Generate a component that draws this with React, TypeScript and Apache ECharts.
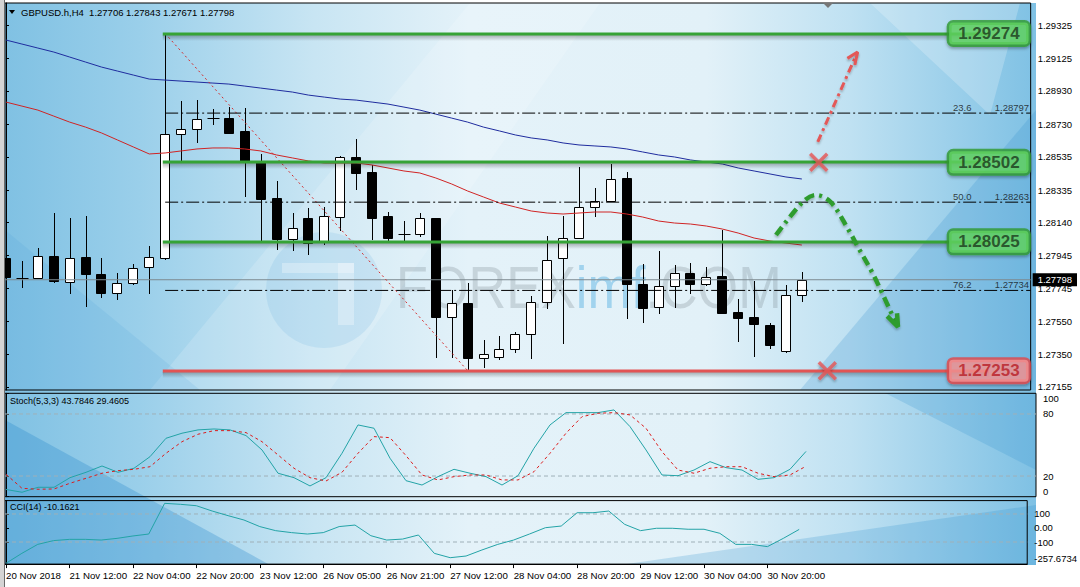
import React, { useEffect, useRef } from "react";
import * as echarts from "echarts";

// ---------- texts ----------
const symbolTitle = "GBPUSD.h,H4  1.27706 1.27843 1.27671 1.27798";
const stochTitle = "Stoch(5,3,3) 43.7846 29.4605";
const cciTitle = "CCI(14) -10.1621";
const watermarkA = "FOREX";
const watermarkB = "imf";
const watermarkC = ".COM";

// ---------- axes ----------
const timeLabels = [
  "20 Nov 2018", "21 Nov 12:00", "22 Nov 04:00", "22 Nov 20:00", "23 Nov 12:00",
  "26 Nov 05:00", "26 Nov 21:00", "27 Nov 12:00", "28 Nov 04:00", "28 Nov 20:00",
  "29 Nov 12:00", "30 Nov 04:00", "30 Nov 20:00",
];
const TIME_LABEL_STEP = 4;
const priceTicks = [1.29325, 1.29125, 1.2893, 1.2873, 1.28535, 1.28335, 1.2814, 1.27945, 1.27745, 1.2755, 1.2735, 1.27155];
const stochTicks = [100, 80, 20, 0];
const stochTickText = ["100", "80", "20", "0"];
const cciTicks = [195.5107, 100, 0, -100, -257.6734];
const cciTickText = ["195.5107", "100", "0.00", "-100", "-257.6734"];
const stochLevels = [80, 20];
const cciLevels = [100, -100];

const X_MIN = -0.0625;
const X_MAX = 64.375;
const PRICE_MIN = 1.27137;
const PRICE_MAX = 1.29457;
const CCI_MIN = -257.6734;
const CCI_MAX = 195.5107;

// ---------- OHLC (H4 bars) ----------
const opens = [
  1.27928, 1.2781, 1.27808, 1.2794, 1.27784, 1.27934, 1.27832, 1.27718, 1.27778, 1.27874,
  1.27928, 1.28672, 1.28701, 1.28767, 1.28767, 1.2869, 1.28504, 1.28288, 1.28042, 1.28168,
  1.28024, 1.28174, 1.28534, 1.28444, 1.2818, 1.28072, 1.28072, 1.28168, 1.27574, 1.27658,
  1.27328, 1.27334, 1.27382, 1.27472, 1.27664, 1.27928, 1.28048, 1.28234, 1.2827, 1.28408,
  1.27772, 1.27634, 1.2776, 1.27838, 1.27772, 1.2782, 1.27604, 1.27574, 1.27526, 1.2737,
  1.27706,
];
const closes = [
  1.27814, 1.27806, 1.2794, 1.2779, 1.27928, 1.27832, 1.27718, 1.27778, 1.27868, 1.27934,
  1.28672, 1.28701, 1.28761, 1.28765, 1.28678, 1.28504, 1.28282, 1.28042, 1.28108, 1.28018,
  1.2818, 1.28534, 1.28438, 1.28168, 1.28048, 1.2807, 1.28168, 1.27574, 1.27658, 1.27328,
  1.27352, 1.27382, 1.27472, 1.27664, 1.27916, 1.28048, 1.28234, 1.2827, 1.28402, 1.27772,
  1.27628, 1.2776, 1.27838, 1.27772, 1.27814, 1.27598, 1.27568, 1.27532, 1.27406, 1.27706,
  1.27798,
];
const lows = [
  1.27766, 1.27754, 1.27806, 1.27784, 1.27718, 1.2764, 1.27694, 1.27682, 1.27772, 1.27718,
  1.27922, 1.28504, 1.28624, 1.28731, 1.28676, 1.283, 1.28024, 1.27982, 1.27976, 1.27952,
  1.28012, 1.28096, 1.28342, 1.28042, 1.2803, 1.28036, 1.2806, 1.27334, 1.27334, 1.27253,
  1.27274, 1.27322, 1.27364, 1.27328, 1.27628, 1.27418, 1.28046, 1.2818, 1.28268, 1.27568,
  1.27544, 1.27598, 1.27634, 1.27718, 1.27766, 1.27596, 1.2743, 1.2734, 1.27388, 1.27364,
  1.27671,
];
const highs = [
  1.27958, 1.2791, 1.27988, 1.28198, 1.28168, 1.2818, 1.27928, 1.27838, 1.27892, 1.28,
  1.29274, 1.28869, 1.28875, 1.28821, 1.28833, 1.28827, 1.28552, 1.2839, 1.28198, 1.28228,
  1.28234, 1.2854, 1.28642, 1.28486, 1.28204, 1.2815, 1.28198, 1.2817, 1.27736, 1.27778,
  1.27436, 1.2746, 1.27484, 1.277, 1.2806, 1.2818, 1.28474, 1.28348, 1.28492, 1.28444,
  1.27892, 1.2797, 1.27886, 1.27898, 1.27874, 1.28096, 1.27682, 1.2779, 1.27538, 1.27766,
  1.27843,
];

// ---------- moving averages ----------
const maSlow = [
  1.29235, 1.29211, 1.29187, 1.29163, 1.29133, 1.29103, 1.29073, 1.29049, 1.29025, 1.29001,
  1.28995, 1.28989, 1.28983, 1.28977, 1.28971, 1.28959, 1.28947, 1.28935, 1.28923, 1.28905,
  1.28893, 1.28881, 1.28875, 1.28863, 1.28851, 1.28833, 1.28815, 1.28791, 1.28767, 1.28743,
  1.28713, 1.2869, 1.28666, 1.28648, 1.28636, 1.28618, 1.28606, 1.286, 1.28594, 1.28582,
  1.28564, 1.28546, 1.28534, 1.28516, 1.28504, 1.28492, 1.28468, 1.2845, 1.28432, 1.28414,
  1.28402,
];
const maFast = [
  1.28863, 1.28839, 1.28815, 1.28779, 1.28743, 1.28713, 1.28678, 1.28636, 1.28594, 1.28552,
  1.28558, 1.2857, 1.28582, 1.28588, 1.28588, 1.28582, 1.2857, 1.28546, 1.28528, 1.2851,
  1.28498, 1.28498, 1.28498, 1.28486, 1.28468, 1.2845, 1.28438, 1.28408, 1.28372, 1.2833,
  1.28294, 1.28258, 1.28234, 1.2821, 1.28198, 1.28192, 1.28198, 1.28204, 1.28204, 1.28192,
  1.28174, 1.2815, 1.28138, 1.28132, 1.2812, 1.28102, 1.28078, 1.28048, 1.2803, 1.28018,
  1.28006,
];

// ---------- indicators ----------
const stochK = [
  7.0, 4.3, 9.1, 9.1, 18.4, 23.6, 29.7, 23.6, 27.5, 38.7,
  56.5, 61.4, 64.6, 65.5, 64.6, 59.1, 45.2, 22.7, 18.4, 10.4,
  18.4, 42.0, 69.4, 66.2, 37.2, 15.5, 11.3, 19.4, 26.5, 22.7,
  19.4, 11.3, 20.3, 46.9, 69.4, 81.3, 81.3, 81.3, 83.9, 67.8,
  45.2, 21.0, 20.3, 25.8, 33.9, 28.1, 25.8, 16.8, 18.4, 26.5,
  43.7846,
];
const stochD = [
  21.7, 8.1, 7.2, 7.5, 13.0, 17.8, 22.7, 25.2, 26.5, 29.0,
  42.0, 53.2, 60.4, 63.9, 63.9, 62.0, 53.2, 40.4, 27.5, 18.4,
  15.2, 23.6, 42.0, 58.1, 57.1, 39.7, 21.0, 16.2, 19.4, 21.0,
  21.0, 16.2, 16.2, 24.2, 42.0, 61.4, 77.4, 80.7, 81.3, 79.1,
  66.2, 43.6, 25.8, 22.7, 27.5, 29.0, 29.0, 22.7, 19.4, 21.0,
  29.4605,
];
const cci = [
  -252, -181, -117, -90, -81, -81, -86, -74, -57, -43,
  176, 169, 159, 121, 88, 57, 10, -19, -33, -43,
  -33, 10, 21, -55, -86, -79, -50, -181, -212, -200,
  -157, -117, -86, -43, 2, 14, 109, 109, 121, 26,
  -19, -2, -2, -9, -9, -38, -117, -117, -133, -74,
  -10.1621,
];

// ---------- levels / analysis objects ----------
const resistanceLevels = [1.29274, 1.28502, 1.28025];
const supportLevels = [1.27253];
const fibLevels = [23.6, 50.0, 76.2];
const fibPrices = [1.28797, 1.28263, 1.27734];
const fibHigh = [10, 1.29274];
const fibLow = [29, 1.27253];
const lastPrice = 1.27798;
const LEVEL_START_X = 9.85;
const LABEL_BOX_X = 61.75;
const FIB_PCT_X = 60.69;
const FIB_PRICE_X = 64.31;

const bullArrowPath = [[51.0, 1.28624], [53.5, 1.29163]];
const bullArrowHead = [[52.86, 1.29125], [53.5, 1.29163], [53.33, 1.29085]];
const bearCurvePath = [
  [48.375, 1.28066], [50.06, 1.28264], [50.875, 1.28306], [51.81, 1.28264], [52.94, 1.28096],
  [53.56, 1.27988], [54.44, 1.27838], [55.25, 1.27676], [55.875, 1.27545],
];
const bearArrowHead = [[55.36, 1.2758], [56.04, 1.27516], [55.98, 1.27597]];
const crossMarks = [[51.06, 1.28502], [51.6, 1.27253]];

const FONT = '"Liberation Sans", Arial, Helvetica, sans-serif';

export default function App() {
  const ref = useRef<HTMLDivElement>(null);

  useEffect(() => {
    if (!ref.current) return;
    const chart = echarts.init(ref.current, undefined, { renderer: "svg" });

    const candleData = opens.map((o, i) => [i, o, closes[i], lows[i], highs[i]]);
    const indexed = (arr: number[]) => arr.map((v, i) => [i, v]);
    const hLine = (v: number, x0: number, x1: number) => [[x0, v], [x1, v]];
    const tickIdx = timeLabels.map((_, k) => k * TIME_LABEL_STEP);

    const lineBase = {
      type: "line",
      showSymbol: false,
      symbol: "none",
      silent: true,
      animation: false,
    };

    const series: any[] = [];

    // candles
    series.push({
      type: "custom",
      xAxisIndex: 0,
      yAxisIndex: 0,
      z: 2,
      clip: true,
      silent: true,
      encode: { x: 0, y: [1, 2, 3, 4] },
      data: candleData,
      renderItem: (_params: any, api: any) => {
        const i = api.value(0);
        const o = api.value(1);
        const c = api.value(2);
        const lo = api.value(3);
        const hi = api.value(4);
        const pO = api.coord([i, o]);
        const pC = api.coord([i, c]);
        const pL = api.coord([i, lo]);
        const pH = api.coord([i, hi]);
        const cx = Math.round(pO[0]) + 0.5;
        const yTop = Math.round(Math.min(pO[1], pC[1])) + 0.5;
        const yBot = Math.round(Math.max(pO[1], pC[1])) + 0.5;
        const up = c >= o;
        const children: any[] = [
          {
            type: "line",
            shape: { x1: cx, y1: Math.round(pH[1]), x2: cx, y2: Math.round(pL[1]) + 1 },
            style: { stroke: "#000", lineWidth: 1 },
          },
        ];
        if (yBot - yTop < 1) {
          children.push({
            type: "line",
            shape: { x1: cx - 6, y1: yTop, x2: cx + 6, y2: yTop },
            style: { stroke: "#000", lineWidth: 1 },
          });
        } else {
          children.push({
            type: "rect",
            shape: { x: cx - 5, y: yTop, width: 9, height: yBot - yTop },
            style: { fill: up ? "#ffffff" : "#000000", stroke: "#000", lineWidth: 1 },
          });
        }
        return { type: "group", children };
      },
    });

    // moving averages
    series.push({ ...lineBase, xAxisIndex: 0, yAxisIndex: 0, z: 3, data: indexed(maSlow), lineStyle: { color: "#1f2c9e", width: 1 } });
    series.push({ ...lineBase, xAxisIndex: 0, yAxisIndex: 0, z: 3, data: indexed(maFast), lineStyle: { color: "#d02424", width: 1 } });

    // bid line
    series.push({ ...lineBase, xAxisIndex: 0, yAxisIndex: 0, z: 3, data: hLine(lastPrice, X_MIN, X_MAX), lineStyle: { color: "#7d8a90", width: 1 } });

    // fibo trend line
    series.push({ ...lineBase, xAxisIndex: 0, yAxisIndex: 0, z: 3, data: [fibHigh, fibLow], lineStyle: { color: "#d42a2a", width: 1, type: [2, 3] } });

    // fibo levels
    fibPrices.forEach((p) => {
      series.push({ ...lineBase, xAxisIndex: 0, yAxisIndex: 0, z: 3, data: hLine(p, fibHigh[0], X_MAX), lineStyle: { color: "#000", width: 1, type: [13, 3, 2, 3] } });
    });

    // support / resistance lines with a soft drop shadow
    const levelSeries = (levels: number[], color: string) => ({
      type: "custom",
      xAxisIndex: 0,
      yAxisIndex: 0,
      z: 4,
      silent: true,
      clip: true,
      encode: { x: [0, 1], y: 2 },
      data: levels.map((v) => [LEVEL_START_X, LABEL_BOX_X, v]),
      renderItem: (_params: any, api: any) => {
        const a = api.coord([api.value(0), api.value(2)]);
        const b = api.coord([api.value(1), api.value(2)]);
        const y = Math.round(a[1]);
        const w = b[0] - a[0];
        return {
          type: "group",
          children: [
            {
              type: "rect",
              shape: { x: a[0], y: y + 1, width: w, height: 6 },
              style: {
                fill: {
                  type: "linear", x: 0, y: 0, x2: 0, y2: 1,
                  colorStops: [
                    { offset: 0, color: "rgba(40,40,40,0.35)" },
                    { offset: 1, color: "rgba(40,40,40,0)" },
                  ],
                },
              },
            },
            { type: "rect", shape: { x: a[0], y: y - 1.5, width: w, height: 3 }, style: { fill: color } },
          ],
        };
      },
    });
    series.push(levelSeries(resistanceLevels, "#36a336"));
    series.push(levelSeries(supportLevels, "#e25454"));

    // level label boxes
    const boxLabel = {
      show: true,
      position: "inside",
      fontFamily: FONT,
      fontSize: 17,
      fontWeight: "bold",
      borderWidth: 2.5,
      borderRadius: 4,
      padding: [3, 9, 2, 9],
      shadowColor: "rgba(0,0,0,0.35)",
      shadowBlur: 3,
      shadowOffsetY: 2,
      formatter: (p: any) => p.value[1].toFixed(5),
    };
    series.push({
      type: "scatter", xAxisIndex: 0, yAxisIndex: 0, z: 6, silent: true, symbolSize: 1,
      itemStyle: { color: "rgba(0,0,0,0)" },
      data: resistanceLevels.map((v) => [LABEL_BOX_X, v]),
      label: { ...boxLabel, color: "#1b381b", backgroundColor: "#63d663", borderColor: "#2f9a2f" },
    });
    series.push({
      type: "scatter", xAxisIndex: 0, yAxisIndex: 0, z: 6, silent: true, symbolSize: 1,
      itemStyle: { color: "rgba(0,0,0,0)" },
      data: supportLevels.map((v) => [LABEL_BOX_X, v]),
      label: { ...boxLabel, color: "#b81c24", backgroundColor: "#f59595", borderColor: "#e2474b" },
    });

    // fibo labels
    const fibLabel = { show: true, position: [0, 0], align: "right", verticalAlign: "bottom", fontFamily: FONT, fontSize: 9.5, color: "#111" };
    series.push({
      type: "scatter", xAxisIndex: 0, yAxisIndex: 0, z: 5, silent: true, symbolSize: 1,
      itemStyle: { color: "rgba(0,0,0,0)" },
      data: fibPrices.map((p, k) => ({ value: [FIB_PCT_X, p], name: fibLevels[k].toFixed(1) })),
      label: { ...fibLabel, formatter: (p: any) => p.name },
    });
    series.push({
      type: "scatter", xAxisIndex: 0, yAxisIndex: 0, z: 5, silent: true, symbolSize: 1,
      itemStyle: { color: "rgba(0,0,0,0)" },
      data: fibPrices.map((p) => [FIB_PRICE_X, p]),
      label: { ...fibLabel, formatter: (p: any) => p.value[1].toFixed(5) },
    });

    // analysis arrows
    const softShadow = { shadowColor: "rgba(0,0,0,0.25)", shadowBlur: 2, shadowOffsetY: 2 };
    series.push({ ...lineBase, xAxisIndex: 0, yAxisIndex: 0, z: 5, data: bullArrowPath, lineStyle: { color: "#e35858", width: 3, type: [8, 4, 3, 4], ...softShadow } });
    series.push({ ...lineBase, xAxisIndex: 0, yAxisIndex: 0, z: 5, data: bullArrowHead, lineStyle: { color: "#e35858", width: 3, ...softShadow } });
    series.push({ ...lineBase, xAxisIndex: 0, yAxisIndex: 0, z: 5, smooth: 0.35, data: bearCurvePath, lineStyle: { color: "#2f9c2f", width: 4.5, type: [10, 5, 3, 5], ...softShadow } });
    series.push({ ...lineBase, xAxisIndex: 0, yAxisIndex: 0, z: 5, data: bearArrowHead, lineStyle: { color: "#2f9c2f", width: 4.5, ...softShadow } });
    series.push({
      type: "scatter", xAxisIndex: 0, yAxisIndex: 0, z: 6, silent: true,
      symbol: "path://M0 0L10 10M10 0L0 10", symbolSize: 17, symbolKeepAspect: true,
      itemStyle: { color: "rgba(0,0,0,0)", borderColor: "#e65656", borderWidth: 3.5, shadowColor: "rgba(0,0,0,0.3)", shadowBlur: 2, shadowOffsetY: 2 },
      data: crossMarks,
    });

    // stochastic
    stochLevels.forEach((v) => {
      series.push({ ...lineBase, xAxisIndex: 1, yAxisIndex: 2, z: 2, data: hLine(v, X_MIN, X_MAX), lineStyle: { color: "#9fb0b8", width: 1, type: [4, 3] } });
    });
    series.push({ ...lineBase, xAxisIndex: 1, yAxisIndex: 2, z: 3, data: indexed(stochK), lineStyle: { color: "#23a3a6", width: 1 } });
    series.push({ ...lineBase, xAxisIndex: 1, yAxisIndex: 2, z: 3, data: indexed(stochD), lineStyle: { color: "#dc1c1c", width: 1, type: [3, 3] } });

    // CCI
    cciLevels.forEach((v) => {
      series.push({ ...lineBase, xAxisIndex: 2, yAxisIndex: 3, z: 2, data: hLine(v, X_MIN, X_MAX), lineStyle: { color: "#9fb0b8", width: 1, type: [4, 3] } });
    });
    series.push({ ...lineBase, xAxisIndex: 2, yAxisIndex: 3, z: 3, data: indexed(cci), lineStyle: { color: "#23a3a6", width: 1 } });

    const baseX = { type: "value", min: X_MIN, max: X_MAX, splitLine: { show: false } };
    const axisText = { color: "#000", fontFamily: FONT, fontSize: 9.5 };
    const richShift = {
      t: { ...axisText, padding: [11, 0, 0, 0] },
      b: { ...axisText, padding: [0, 0, 11, 0] },
    };
    const shiftedFormatter = (ticks: number[], texts: string[]) => (v: number) => {
      const k = ticks.findIndex((t) => Math.abs(t - v) < 1e-6);
      if (k < 0) return "";
      if (k === 0) return "{t|" + texts[k] + "}";
      if (k === ticks.length - 1) return "{b|" + texts[k] + "}";
      return texts[k];
    };

    const bgFill = {
      type: "linear", x: 0, y: 0, x2: 1, y2: 0,
      colorStops: [
        { offset: 0, color: "#80c1e3" },
        { offset: 0.13, color: "#9acfea" },
        { offset: 0.3, color: "#c8e5f3" },
        { offset: 0.45, color: "#e4f2f9" },
        { offset: 0.68, color: "#e2f1f8" },
        { offset: 0.82, color: "#bfe1f2" },
        { offset: 1, color: "#7fc1e4" },
      ],
    };

    const graphic: any[] = [
      { type: "rect", z: -10, silent: true, shape: { x: 5, y: 3, width: 1031, height: 562 }, style: { fill: bgFill } },
      { type: "polygon", z: -9, silent: true, shape: { points: [[150, 390], [330, 390], [600, 3], [470, 3]] }, style: { fill: "rgba(255,255,255,0.16)" } },
      { type: "polygon", z: -9, silent: true, shape: { points: [[5, 230], [5, 390], [200, 390]] }, style: { fill: "rgba(60,150,210,0.12)" } },
      { type: "polygon", z: -9, silent: true, shape: { points: [[1036, 110], [1036, 390], [800, 390]] }, style: { fill: "rgba(50,140,205,0.22)" } },
      { type: "polygon", z: -9, silent: true, shape: { points: [[870, 3], [1020, 3], [990, 115]] }, style: { fill: "rgba(255,255,255,0.22)" } },
      { type: "polygon", z: -9, silent: true, shape: { points: [[5, 420], [5, 565], [270, 565]] }, style: { fill: "rgba(30,130,200,0.28)" } },
      { type: "polygon", z: -9, silent: true, shape: { points: [[885, 393], [1036, 393], [1036, 470]] }, style: { fill: "rgba(40,140,205,0.2)" } },
      { type: "polygon", z: -9, silent: true, shape: { points: [[620, 565], [1036, 565], [1036, 505]] }, style: { fill: "rgba(40,140,205,0.22)" } },
      // watermark logo
      { type: "circle", z: 1, silent: true, shape: { cx: 324, cy: 290, r: 58 }, style: { fill: "rgba(80,165,220,0.14)" } },
      { type: "rect", z: 1, silent: true, shape: { x: 282, y: 263, width: 72, height: 10 }, style: { fill: "rgba(255,255,255,0.3)" } },
      { type: "rect", z: 1, silent: true, shape: { x: 338, y: 263, width: 16, height: 62 }, style: { fill: "rgba(255,255,255,0.3)" } },
      {
        type: "text", z: 1, silent: true, x: 396, y: 287, scaleX: 0.87,
        style: {
          text: "{a|" + watermarkA + "}{b|" + watermarkB + "}{a|" + watermarkC + "}",
          verticalAlign: "middle",
          rich: {
            a: { fontSize: 60, fontFamily: FONT, fill: "rgba(105,115,125,0.24)" },
            b: { fontSize: 60, fontFamily: FONT, fill: "rgba(70,170,225,0.42)" },
          },
        },
      },
      // window frame
      { type: "rect", z: 10, silent: true, shape: { x: 0, y: 0, width: 4, height: 587 }, style: { fill: "#d4d4d4" } },
      { type: "line", z: 10, silent: true, shape: { x1: 4.5, y1: 0, x2: 4.5, y2: 587 }, style: { stroke: "#6a6a6a", lineWidth: 1 } },
      { type: "polygon", z: 10, silent: true, shape: { points: [[823, 3], [833, 3], [828, 8]] }, style: { fill: "#767676" } },
      // titles
      { type: "polygon", z: 10, silent: true, shape: { points: [[9, 10], [15, 10], [12, 14]] }, style: { fill: "#000" } },
      { type: "text", z: 10, silent: true, x: 21, y: 12, style: { text: symbolTitle, fontFamily: FONT, fontSize: 9.5, fill: "#000", verticalAlign: "middle" } },
      { type: "text", z: 10, silent: true, x: 10, y: 401, style: { text: stochTitle, fontFamily: FONT, fontSize: 9, fill: "#000", verticalAlign: "middle" } },
      { type: "text", z: 10, silent: true, x: 10, y: 507, style: { text: cciTitle, fontFamily: FONT, fontSize: 9, fill: "#000", verticalAlign: "middle" } },
    ];

    const gridBase = { show: true, backgroundColor: "transparent", borderColor: "#000", borderWidth: 1 };

    const option: any = {
      animation: false,
      backgroundColor: "#ffffff",
      grid: [
        { ...gridBase, left: 5, top: 3, width: 1031, height: 387 },
        { ...gridBase, left: 5, top: 393.3, width: 1031, height: 103.4 },
        { ...gridBase, left: 5, top: 500.6, width: 1031, height: 63.5 },
      ],
      xAxis: [
        { ...baseX, gridIndex: 0, show: false },
        { ...baseX, gridIndex: 1, show: false },
        {
          ...baseX, gridIndex: 2,
          axisLine: { show: true, onZero: false, lineStyle: { color: "#000" } },
          axisTick: { show: true, customValues: tickIdx, length: 4, lineStyle: { color: "#000" } },
          axisLabel: {
            customValues: tickIdx, align: "left", margin: 6, color: "#000", fontFamily: FONT, fontSize: 9.7,
            formatter: (v: number) => timeLabels[Math.round(v / TIME_LABEL_STEP)] ?? "",
          },
        },
      ],
      yAxis: [
        {
          type: "value", gridIndex: 0, position: "right", min: PRICE_MIN, max: PRICE_MAX,
          splitLine: { show: false },
          axisLine: { show: true, lineStyle: { color: "#000" } },
          axisTick: { show: true, customValues: priceTicks, length: 3, lineStyle: { color: "#000" } },
          axisLabel: { ...axisText, customValues: priceTicks, margin: 7, formatter: (v: number) => v.toFixed(5) },
        },
        {
          type: "value", gridIndex: 0, position: "right", min: PRICE_MIN, max: PRICE_MAX,
          splitLine: { show: false }, axisLine: { show: false }, axisTick: { show: false },
          axisLabel: {
            customValues: [lastPrice], margin: 2, color: "#fff", backgroundColor: "#000",
            padding: [2, 5, 1, 5], fontFamily: FONT, fontSize: 9.5,
            formatter: (v: number) => v.toFixed(5),
          },
        },
        {
          type: "value", gridIndex: 1, position: "right", min: 0, max: 100,
          splitLine: { show: false },
          axisLine: { show: true, lineStyle: { color: "#000" } },
          axisTick: { show: true, customValues: stochTicks, length: 3, lineStyle: { color: "#000" } },
          axisLabel: { ...axisText, customValues: stochTicks, margin: 7, rich: richShift, formatter: shiftedFormatter(stochTicks, stochTickText) },
        },
        {
          type: "value", gridIndex: 2, position: "right", min: CCI_MIN, max: CCI_MAX,
          splitLine: { show: false },
          axisLine: { show: true, lineStyle: { color: "#000" } },
          axisTick: { show: true, customValues: cciTicks, length: 3, lineStyle: { color: "#000" } },
          axisLabel: { ...axisText, customValues: cciTicks, margin: 7, rich: richShift, formatter: shiftedFormatter(cciTicks, cciTickText) },
        },
      ],
      graphic,
      series,
    };

    chart.setOption(option);
    return () => {
      chart.dispose();
    };
  }, []);

  return (
    <div
      ref={ref}
      style={{ position: "fixed", left: 0, top: 0, width: 1080, height: 587, background: "#ffffff" }}
    />
  );
}
